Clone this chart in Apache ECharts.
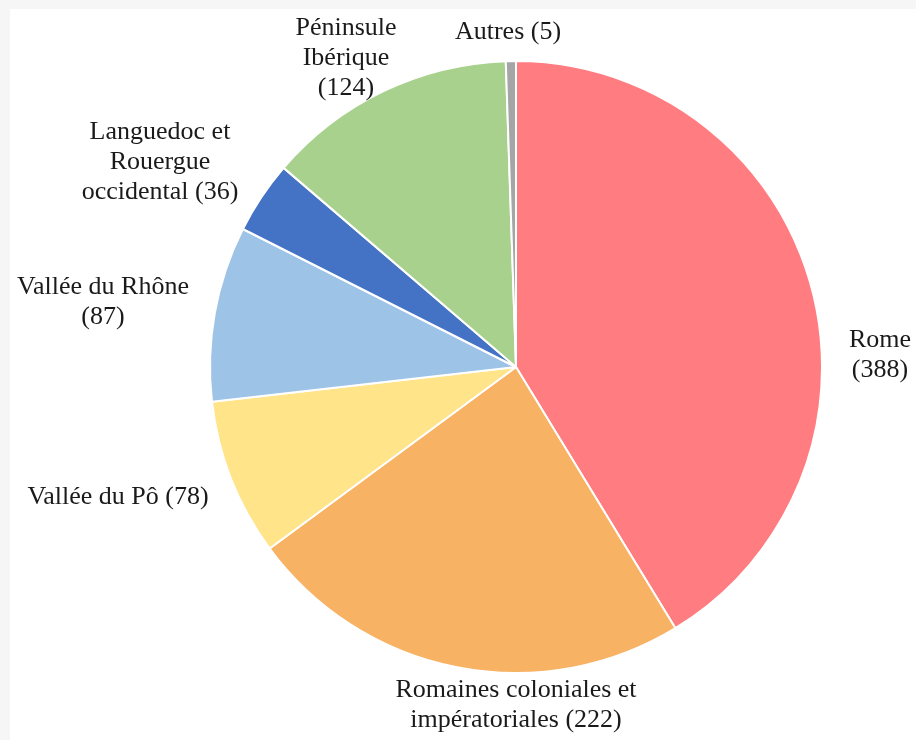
<!DOCTYPE html>
<html>
<head>
<meta charset="utf-8">
<script src="https://cdn.jsdelivr.net/npm/echarts@6/dist/echarts.min.js"></script>
<style>
  html, body { margin: 0; padding: 0; background: #f6f6f6; overflow: hidden; }
  #chart { position: absolute; left: 10px; top: 9px; width: 906px; height: 731px; background: #ffffff; }
</style>
</head>
<body>
<div id="chart"></div>
<script>
// Provenance categories and counts
const regions = [
  'Rome',
  'Romaines coloniales et\nimpératoriales',
  'Vallée du Pô',
  'Vallée du Rhône',
  'Languedoc et\nRouergue\noccidental',
  'Péninsule\nIbérique',
  'Autres'
]
const counts = [388, 222, 78, 87, 36, 124, 5]
const colors = ['#ff7c80', '#f8b264', '#ffe48a', '#9dc3e6', '#4472c4', '#a9d18e', '#a5a5a5']

// separator between name and count in each label
const labelSep = ['\n', ' ', ' ', '\n', ' ', '\n', ' ']

// label offsets from the pie centre (px)
const labelOffsets = [[364, -12], [0, 338], [-398, 130], [-413, -65], [-356, -205], [-170, -309], [-8, -335]]

const cx = 506
const cy = 358

const chart = echarts.init(document.getElementById('chart'))

chart.setOption({
  animation: false,
  series: [
    {
      type: 'pie',
      center: [cx, cy],
      radius: 306,
      startAngle: 90,
      clockwise: true,
      data: regions.map((name, i) => ({
        name: name,
        value: counts[i],
        itemStyle: { color: colors[i] }
      })),
      itemStyle: { borderColor: '#ffffff', borderWidth: 2 },
      label: {
        show: true,
        position: 'outside',
        overflow: 'none',
        fontFamily: 'Liberation Serif',
        fontSize: 26,
        lineHeight: 30,
        color: '#1a1a1a',
        formatter: p => p.name + labelSep[p.dataIndex] + '(' + p.value + ')'
      },
      labelLine: { show: false },
      labelLayout: p => ({
        x: cx + labelOffsets[p.dataIndex][0],
        y: cy + labelOffsets[p.dataIndex][1],
        align: 'center',
        verticalAlign: 'middle',
        hideOverlap: false
      }),
      emphasis: { disabled: true }
    }
  ]
})

window.addEventListener('resize', () => chart.resize())
</script>
</body>
</html>
